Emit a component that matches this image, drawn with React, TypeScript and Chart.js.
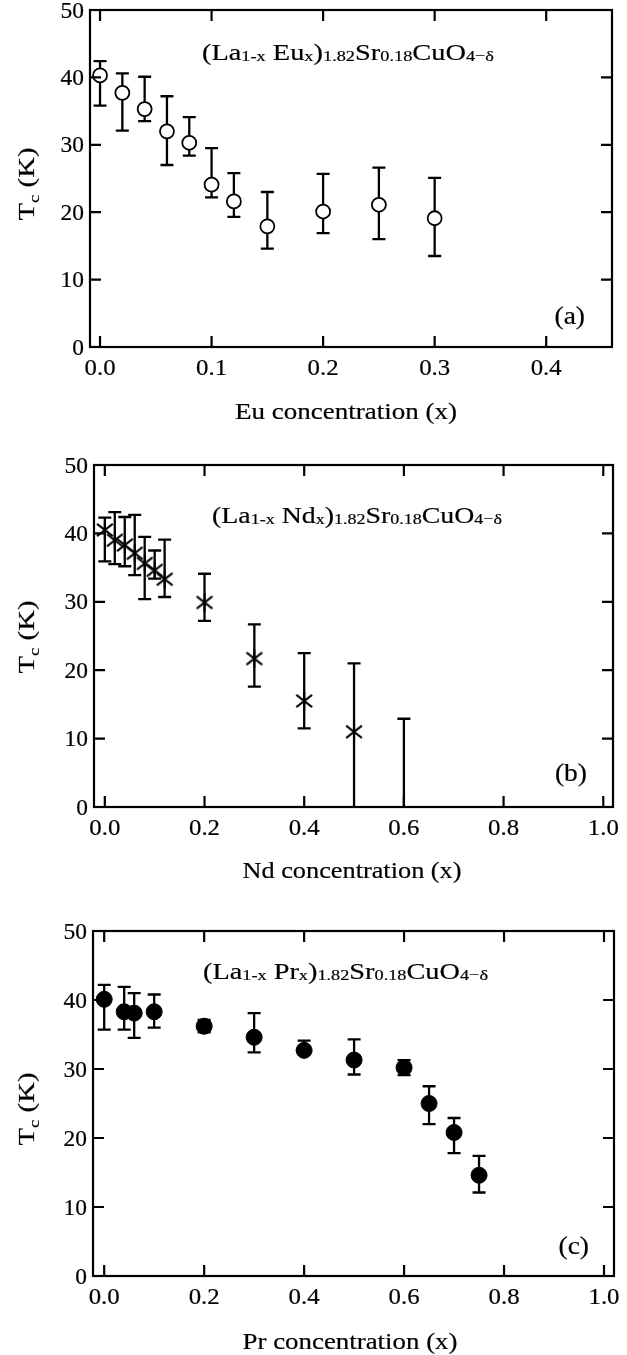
import React, { useEffect, useRef } from 'react';
import { Chart, registerables } from 'chart.js';
Chart.register(...registerables);

// ---------- Data ----------
// Panel (a): Eu substitution
const euX = [0, 0.02, 0.04, 0.06, 0.08, 0.1, 0.12, 0.15, 0.2, 0.25, 0.3];
const euTc = [40.3, 37.7, 35.3, 32.0, 30.3, 24.1, 21.6, 17.9, 20.1, 21.1, 19.1];
const euHi = [42.4, 40.6, 40.1, 37.2, 34.1, 29.5, 25.8, 23.0, 25.7, 26.6, 25.1];
const euLo = [35.8, 32.1, 33.5, 27.0, 28.4, 22.2, 19.3, 14.6, 16.9, 16.0, 13.5];

// Panel (b): Nd substitution (last point: error bar only, no marker)
const ndX = [0, 0.02, 0.04, 0.06, 0.08, 0.1, 0.12, 0.2, 0.3, 0.4, 0.5, 0.6];
const ndTc = [40.5, 39.0, 38.3, 37.1, 35.6, 34.6, 33.3, 29.9, 21.7, 15.5, 11.0, 0];
const ndHi = [42.3, 43.1, 42.4, 42.7, 39.5, 37.5, 39.1, 34.1, 26.7, 22.5, 21.0, 12.9];
const ndLo = [35.9, 35.5, 35.2, 33.9, 30.4, 33.4, 30.7, 27.2, 17.6, 11.5, 0, 0];
const ndShown = [true, true, true, true, true, true, true, true, true, true, true, false];

// Panel (c): Pr substitution
const prX = [0, 0.04, 0.06, 0.1, 0.2, 0.3, 0.4, 0.5, 0.6, 0.65, 0.7, 0.75];
const prTc = [40.1, 38.3, 38.1, 38.3, 36.2, 34.6, 32.7, 31.3, 30.2, 25.0, 20.8, 14.6];
const prHi = [42.2, 41.9, 41.0, 40.8, 37.1, 38.1, 34.1, 34.3, 31.3, 27.5, 22.9, 17.4];
const prLo = [35.7, 35.7, 34.5, 36.0, 35.3, 32.4, 32.7, 29.2, 29.1, 22.0, 17.8, 12.1];

// Ticks
const xTicksA = [0, 0.1, 0.2, 0.3, 0.4];
const xLabelsA = ['0.0', '0.1', '0.2', '0.3', '0.4'];
const xTicksBC = [0, 0.2, 0.4, 0.6, 0.8, 1.0];
const xLabelsBC = ['0.0', '0.2', '0.4', '0.6', '0.8', '1.0'];
const yTicks = [0, 10, 20, 30, 40, 50];
const yLabels = ['0', '10', '20', '30', '40', '50'];

const FONT = "'Liberation Serif', 'Times New Roman', Times, serif";
const W = 627;
const SX = 1.08;
const TEXT_STROKE = 0.2;

type Run = { t: string; sub?: boolean };

const formulaEu: Run[] = [
  { t: '(La' }, { t: '1-x', sub: true }, { t: ' Eu' }, { t: 'x', sub: true }, { t: ')' },
  { t: '1.82', sub: true }, { t: 'Sr' }, { t: '0.18', sub: true }, { t: 'CuO' }, { t: '4\u2212\u03b4', sub: true },
];
const formulaNd: Run[] = [
  { t: '(La' }, { t: '1-x', sub: true }, { t: ' Nd' }, { t: 'x', sub: true }, { t: ')' },
  { t: '1.82', sub: true }, { t: 'Sr' }, { t: '0.18', sub: true }, { t: 'CuO' }, { t: '4\u2212\u03b4', sub: true },
];
const formulaPr: Run[] = [
  { t: '(La' }, { t: '1-x', sub: true }, { t: ' Pr' }, { t: 'x', sub: true }, { t: ')' },
  { t: '1.82', sub: true }, { t: 'Sr' }, { t: '0.18', sub: true }, { t: 'CuO' }, { t: '4\u2212\u03b4', sub: true },
];
const yTitleRuns: Run[] = [{ t: 'T' }, { t: 'c', sub: true }, { t: ' (K)' }];

type PanelCfg = {
  top: number; height: number;
  L: number; R: number; T: number; B: number;
  xMin: number; xMax: number;
  xTicks: number[]; xLabels: string[];
  xs: number[]; tc: number[]; hi: number[]; lo: number[]; shown?: boolean[];
  marker: 'open' | 'star' | 'filled';
  formula: Run[]; fX: number; fW: number; fY: number;
  label: string; labelR: number; labelY: number;
  xTitle: string; xTitleCX: number; xTitleY: number; xTitleW: number;
  yTitleX: number; yTitleCY: number;
};

const panels: PanelCfg[] = [
  {
    top: 0, height: 440, L: 90, R: 612, T: 10, B: 347,
    xMin: -0.009, xMax: 0.459, xTicks: xTicksA, xLabels: xLabelsA,
    xs: euX, tc: euTc, hi: euHi, lo: euLo, marker: 'open',
    formula: formulaEu, fX: 202, fW: 292, fY: 60,
    label: '(a)', labelR: 585, labelY: 324,
    xTitle: 'Eu concentration (x)', xTitleCX: 346, xTitleY: 419, xTitleW: 222,
    yTitleX: 34, yTitleCY: 184,
  },
  {
    top: 440, height: 460, L: 94, R: 613, T: 25, B: 367,
    xMin: -0.0217, xMax: 1.0195, xTicks: xTicksBC, xLabels: xLabelsBC,
    xs: ndX, tc: ndTc, hi: ndHi, lo: ndLo, shown: ndShown, marker: 'star',
    formula: formulaNd, fX: 212, fW: 290, fY: 83,
    label: '(b)', labelR: 587, labelY: 341,
    xTitle: 'Nd concentration (x)', xTitleCX: 352, xTitleY: 438, xTitleW: 219,
    yTitleX: 34, yTitleCY: 197,
  },
  {
    top: 900, height: 455, L: 93, R: 614, T: 31, B: 376,
    xMin: -0.0224, xMax: 1.02, xTicks: xTicksBC, xLabels: xLabelsBC,
    xs: prX, tc: prTc, hi: prHi, lo: prLo, marker: 'filled',
    formula: formulaPr, fX: 203, fW: 285, fY: 79,
    label: '(c)', labelR: 589, labelY: 354,
    xTitle: 'Pr concentration (x)', xTitleCX: 350, xTitleY: 449, xTitleW: 215,
    yTitleX: 34, yTitleCY: 209,
  },
];

function paintText(ctx: CanvasRenderingContext2D, t: string, x: number, y: number) {
  ctx.fillText(t, x, y);
  ctx.strokeText(t, x, y);
}

function drawText(ctx: CanvasRenderingContext2D, text: string, x: number, y: number, size: number,
  align: 'left' | 'center' | 'right', sx: number, targetW?: number) {
  ctx.save();
  ctx.font = `${size}px ${FONT}`;
  const m = ctx.measureText(text).width;
  const s = targetW ? targetW / m : sx;
  const w = m * s;
  const left = align === 'center' ? x - w / 2 : align === 'right' ? x - w : x;
  ctx.translate(left, y);
  ctx.scale(s, 1);
  ctx.textAlign = 'left';
  ctx.textBaseline = 'alphabetic';
  ctx.fillStyle = '#000';
  ctx.strokeStyle = '#000';
  ctx.lineWidth = TEXT_STROKE;
  paintText(ctx, text, 0, 0);
  ctx.restore();
}

function runsWidth(ctx: CanvasRenderingContext2D, runs: Run[], main: number, sub: number) {
  let total = 0;
  const ws = runs.map((r) => {
    ctx.font = `${r.sub ? sub : main}px ${FONT}`;
    const w = ctx.measureText(r.t).width;
    total += w;
    return w;
  });
  return { total, ws };
}

function drawRuns(ctx: CanvasRenderingContext2D, runs: Run[], x: number, y: number, main: number,
  sub: number, drop: number, s: number) {
  const { ws } = runsWidth(ctx, runs, main, sub);
  ctx.save();
  ctx.translate(x, y);
  ctx.scale(s, 1);
  ctx.fillStyle = '#000';
  ctx.strokeStyle = '#000';
  ctx.lineWidth = TEXT_STROKE;
  ctx.textAlign = 'left';
  ctx.textBaseline = 'alphabetic';
  let cx = 0;
  runs.forEach((r, i) => {
    ctx.font = `${r.sub ? sub : main}px ${FONT}`;
    paintText(ctx, r.t, cx, r.sub ? drop : 0);
    cx += ws[i];
  });
  ctx.restore();
}

function makeStar(): HTMLCanvasElement {
  const c = document.createElement('canvas');
  c.width = 22; c.height = 22;
  const g = c.getContext('2d')!;
  g.strokeStyle = '#000';
  g.lineWidth = 2;
  const cx = 11, cy = 11;
  const a = (38 * Math.PI) / 180, r = 10;
  g.beginPath();
  g.moveTo(cx, cy - 9); g.lineTo(cx, cy + 9);
  g.moveTo(cx - r * Math.cos(a), cy - r * Math.sin(a)); g.lineTo(cx + r * Math.cos(a), cy + r * Math.sin(a));
  g.moveTo(cx - r * Math.cos(a), cy + r * Math.sin(a)); g.lineTo(cx + r * Math.cos(a), cy - r * Math.sin(a));
  g.stroke();
  return c;
}

function Panel({ cfg }: { cfg: PanelCfg }) {
  const ref = useRef<HTMLCanvasElement | null>(null);
  useEffect(() => {
    const canvas = ref.current;
    if (!canvas) return;
    const star = makeStar();

    const errorBars = {
      id: 'errorBars',
      beforeDatasetsDraw(chart: any) {
        const ctx: CanvasRenderingContext2D = chart.ctx;
        const xs = chart.scales.x, ys = chart.scales.y;
        ctx.save();
        ctx.strokeStyle = '#000';
        ctx.lineWidth = 2.3;
        const cap = 6.5;
        cfg.xs.forEach((xv, i) => {
          const px = xs.getPixelForValue(xv);
          const yh = ys.getPixelForValue(cfg.hi[i]);
          const yl = ys.getPixelForValue(cfg.lo[i]);
          ctx.beginPath();
          ctx.moveTo(px, yh); ctx.lineTo(px, yl);
          ctx.moveTo(px - cap, yh); ctx.lineTo(px + cap, yh);
          if (cfg.lo[i] > 0) {
            ctx.moveTo(px - cap, yl); ctx.lineTo(px + cap, yl);
          }
          ctx.stroke();
        });
        ctx.restore();
      },
    };

    const decor = {
      id: 'decor',
      afterDraw(chart: any) {
        const ctx: CanvasRenderingContext2D = chart.ctx;
        const xs = chart.scales.x, ys = chart.scales.y;
        const { left, right, top, bottom } = chart.chartArea;
        ctx.save();
        ctx.strokeStyle = '#000';
        ctx.lineWidth = 2.2;
        ctx.strokeRect(left, top, right - left, bottom - top);
        const tl = 11;
        ctx.beginPath();
        cfg.xTicks.forEach((v) => {
          const p = xs.getPixelForValue(v);
          ctx.moveTo(p, bottom); ctx.lineTo(p, bottom - tl);
          ctx.moveTo(p, top); ctx.lineTo(p, top + tl);
        });
        yTicks.forEach((v) => {
          if (v === 0 || v === 50) return;
          const p = ys.getPixelForValue(v);
          ctx.moveTo(left, p); ctx.lineTo(left + tl, p);
          ctx.moveTo(right, p); ctx.lineTo(right - tl, p);
        });
        ctx.stroke();
        ctx.restore();

        // tick labels
        cfg.xTicks.forEach((v, i) => {
          drawText(ctx, cfg.xLabels[i], xs.getPixelForValue(v), bottom + 28, 23, 'center', SX);
        });
        yTicks.forEach((v, i) => {
          drawText(ctx, yLabels[i], left - 6, ys.getPixelForValue(v) + 7.5, 23, 'right', 1.02);
        });

        // axis titles
        drawText(ctx, cfg.xTitle, cfg.xTitleCX, cfg.xTitleY, 23.5, 'center', SX, cfg.xTitleW);
        ctx.save();
        ctx.translate(cfg.yTitleX, cfg.yTitleCY);
        ctx.rotate(-Math.PI / 2);
        const ys2 = 1.25;
        const yw = runsWidth(ctx, yTitleRuns, 23, 15).total * ys2;
        drawRuns(ctx, yTitleRuns, -yw / 2, 0, 23, 15, 5, ys2);
        ctx.restore();

        // formula
        const fw = runsWidth(ctx, cfg.formula, 24, 15.5).total;
        drawRuns(ctx, cfg.formula, cfg.fX, cfg.fY, 24, 15.5, 1, cfg.fW / fw);

        // panel label
        drawText(ctx, cfg.label, cfg.labelR, cfg.labelY, 25, 'right', 1.1);
      },
    };

    const pointRadius = cfg.xs.map((_, i) => (cfg.shown && !cfg.shown[i] ? 0 : cfg.marker === 'open' ? 7 : cfg.marker === 'filled' ? 8 : 10));

    const chart = new Chart(canvas, {
      type: 'scatter',
      data: {
        datasets: [
          {
            data: cfg.xs.map((x, i) => ({ x, y: cfg.tc[i] })),
            pointStyle: cfg.marker === 'star' ? (star as any) : 'circle',
            pointRadius,
            pointHoverRadius: pointRadius,
            backgroundColor: cfg.marker === 'open' ? '#ffffff' : '#000000',
            borderColor: '#000000',
            borderWidth: cfg.marker === 'open' ? 1.8 : 1,
            showLine: false,
          },
        ],
      },
      options: {
        animation: false,
        responsive: false,
        devicePixelRatio: 1,
        events: [],
        layout: { autoPadding: false, padding: { left: 0, right: W - cfg.R, top: cfg.T, bottom: 0 } },
        plugins: { legend: { display: false }, tooltip: { enabled: false }, title: { display: false } },
        scales: {
          x: {
            type: 'linear', min: cfg.xMin, max: cfg.xMax,
            grid: { display: false }, border: { display: false }, ticks: { display: false },
            afterFit: (s: any) => { s.height = cfg.height - cfg.B; },
          },
          y: {
            type: 'linear', min: 0, max: 50,
            grid: { display: false }, border: { display: false }, ticks: { display: false },
            afterFit: (s: any) => { s.width = cfg.L; },
          },
        },
      } as any,
      plugins: [errorBars, decor],
    });
    return () => chart.destroy();
  }, [cfg]);
  return (
    <canvas
      ref={ref}
      width={W}
      height={cfg.height}
      style={{ position: 'absolute', left: 0, top: cfg.top, width: W, height: cfg.height }}
    />
  );
}

export default function App() {
  useEffect(() => {
    document.body.style.margin = '0';
    document.body.style.background = '#ffffff';
  }, []);
  return (
    <div style={{ position: 'absolute', left: 0, top: 0, width: W, height: 1355, background: '#ffffff' }}>
      {panels.map((p, i) => (
        <Panel key={i} cfg={p} />
      ))}
    </div>
  );
}
